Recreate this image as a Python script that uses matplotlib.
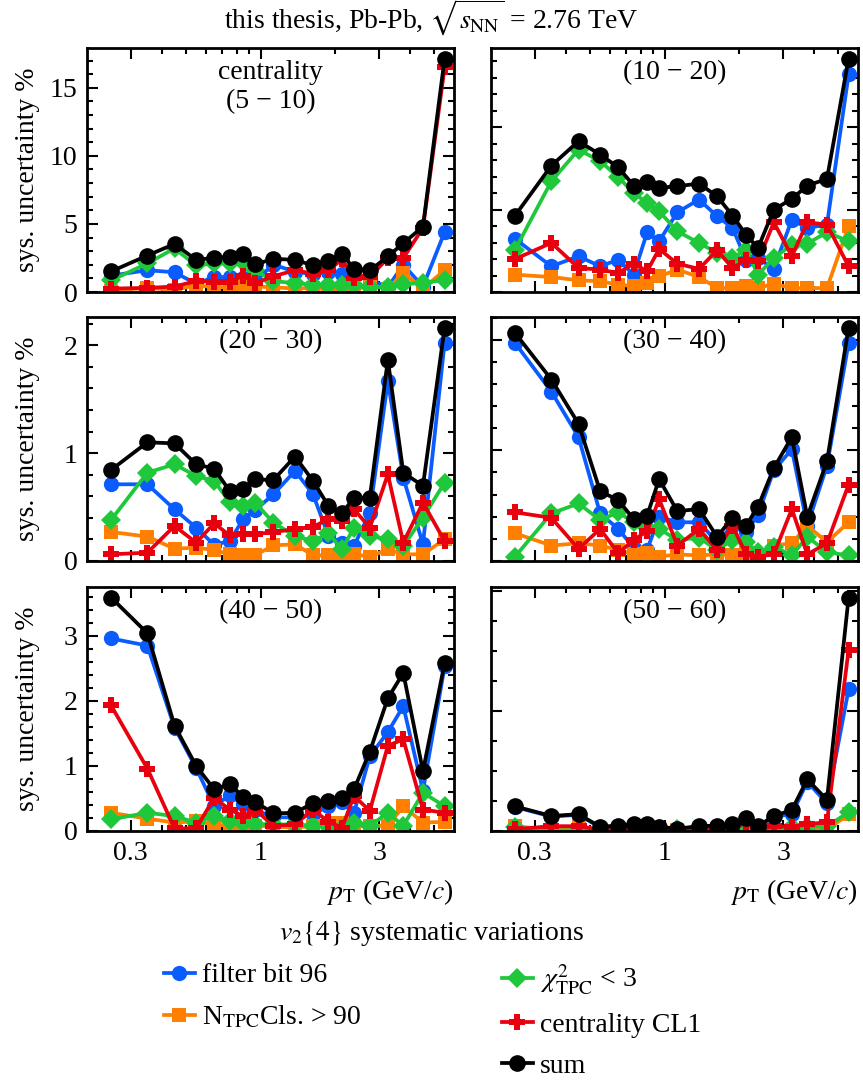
import matplotlib
matplotlib.use("Agg")
import matplotlib.pyplot as plt
from matplotlib.ticker import FixedLocator, MultipleLocator, NullFormatter, FixedFormatter

plt.rcParams['font.family'] = ['Liberation Serif', 'DejaVu Serif']
plt.rcParams['mathtext.fontset'] = 'stix'
plt.rcParams['font.size'] = 20

# transverse-momentum bin centres (GeV/c)
pt = [0.25, 0.35, 0.45, 0.55, 0.65, 0.75, 0.85, 0.95, 1.125, 1.375,
      1.625, 1.875, 2.125, 2.375, 2.75, 3.25, 3.75, 4.5, 5.5]

centrality = ["5 − 10", "10 − 20", "20 − 30", "30 − 40", "40 − 50", "50 − 60"]

# systematic uncertainty (%) per centrality class, one row per class
filter_bit_96 = [
    [1.2, 1.6, 1.45, 0.6, 1.1, 1.1, 1.0, 0.85, 2.0, 1.5, 1.3, 1.5, 1.3, 1.2, 0.9, 0.35, 2.0, 0.4, 4.4],
    [3.22, 1.56, 2.17, 1.56, 1.96, 1.05, 3.62, 3.08, 4.84, 5.61, 4.6, 3.89, 1.96, 2.06, 1.4, 4.39, 3.89, 4.09, 13.2],
    [0.711, 0.711, 0.479, 0.309, 0.15, 0.185, 0.386, 0.47, 0.618, 0.835, 0.618, 0.23, 0.17, 0.14, 0.448, 1.67, 0.773, 0.155, 2.025],
    [1.97, 1.53, 1.12, 0.43, 0.29, 0.12, 0.10, 0.40, 0.35, 0.35, 0.17, 0.32, 0.26, 0.42, 0.82, 1.01, 0.32, 0.86, 1.97],
    [2.96, 2.85, 1.59, 0.97, 0.38, 0.55, 0.41, 0.33, 0.21, 0.21, 0.26, 0.38, 0.44, 0.28, 1.15, 1.52, 1.92, 0.62, 2.53],
    [0.40, 0.24, 0.27, 0.06, 0.08, 0.10, 0.10, 0.06, 0.03, 0.07, 0.08, 0.10, 0.20, 0.07, 0.24, 0.28, 0.82, 0.46, 2.36],
]
n_tpc_cls = [
    [0.1, 0.3, 0.15, 0.5, 0.35, 0.35, 0.6, 0.4, 0.35, 0.25, 0.3, 0.2, 0.2, 0.15, 0.5, 0.25, 1.4, 0.25, 1.6],
    [1.05, 0.91, 0.71, 0.65, 0.45, 0.35, 0.55, 0.95, 1.36, 0.91, 0.24, 0.24, 0.38, 0.24, 0.5, 0.24, 0.24, 0.24, 3.99],
    [0.269, 0.226, 0.114, 0.124, 0.102, 0.062, 0.053, 0.053, 0.145, 0.155, 0.053, 0.053, 0.04, 0.062, 0.04, 0.108, 0.062, 0.062, 0.2],
    [0.25, 0.14, 0.16, 0.14, 0.10, 0.06, 0.07, 0.04, 0.06, 0.05, 0.06, 0.05, 0.07, 0.05, 0.14, 0.16, 0.32, 0.17, 0.35],
    [0.28, 0.19, 0.13, 0.15, 0.10, 0.08, 0.08, 0.08, 0.07, 0.05, 0.08, 0.13, 0.13, 0.08, 0.08, 0.08, 0.38, 0.13, 0.14],
    [0.08, 0.02, 0.08, 0.02, 0.02, 0.02, 0.02, 0.02, 0.02, 0.02, 0.02, 0.02, 0.02, 0.02, 0.02, 0.02, 0.02, 0.02, 0.28],
]
chi2_tpc = [
    [0.85, 2.1, 3.2, 1.95, 2.1, 2.1, 2.2, 1.6, 0.8, 0.65, 0.55, 0.5, 0.5, 0.5, 0.4, 0.35, 0.6, 0.65, 0.9],
    [2.57, 6.72, 8.64, 7.94, 6.98, 6.01, 5.4, 4.9, 3.68, 2.98, 2.37, 2.06, 2.57, 1.05, 2.06, 2.87, 2.94, 3.62, 3.08],
    [0.38, 0.819, 0.896, 0.788, 0.742, 0.547, 0.51, 0.541, 0.355, 0.232, 0.185, 0.257, 0.108, 0.309, 0.232, 0.2, 0.139, 0.402, 0.726],
    [0.04, 0.43, 0.52, 0.37, 0.44, 0.35, 0.30, 0.29, 0.19, 0.21, 0.10, 0.19, 0.17, 0.08, 0.13, 0.05, 0.22, 0.08, 0.05],
    [0.18, 0.28, 0.23, 0.13, 0.23, 0.15, 0.13, 0.10, 0.10, 0.10, 0.08, 0.08, 0.04, 0.13, 0.08, 0.28, 0.08, 0.59, 0.38],
    [0.06, 0.01, 0.01, 0.01, 0.01, 0.02, 0.02, 0.03, 0.03, 0.01, 0.01, 0.01, 0.01, 0.01, 0.03, 0.07, 0.07, 0.08, 0.31],
]
centrality_cl1 = [
    [0.25, 0.3, 0.4, 0.8, 0.75, 0.75, 1.2, 0.65, 1.15, 1.6, 1.35, 1.6, 2.4, 1.05, 1.1, 2.5, 2.5, 4.7, 16.5],
    [2.0, 2.98, 1.46, 1.36, 1.15, 1.72, 1.26, 2.61, 1.72, 1.40, 2.53, 1.46, 1.96, 1.86, 4.23, 2.17, 4.23, 4.09, 1.56],
    [0.062, 0.077, 0.325, 0.17, 0.349, 0.238, 0.247, 0.247, 0.269, 0.294, 0.318, 0.386, 0.371, 0.479, 0.309, 0.804, 0.17, 0.541, 0.185],
    [0.44, 0.39, 0.11, 0.29, 0.07, 0.19, 0.27, 0.56, 0.14, 0.29, 0.10, 0.32, 0.06, 0.04, 0.06, 0.47, 0.06, 0.16, 0.69],
    [1.93, 0.96, 0.04, 0.04, 0.51, 0.33, 0.23, 0.33, 0.08, 0.10, 0.33, 0.14, 0.05, 0.54, 0.31, 1.31, 1.41, 0.33, 0.28],
    [0.03, 0.08, 0.08, 0.02, 0.02, 0.03, 0.04, 0.02, 0.01, 0.02, 0.02, 0.03, 0.14, 0.02, 0.08, 0.07, 0.11, 0.15, 3.02],
]
total = [
    [1.51, 2.68, 3.53, 2.36, 2.51, 2.56, 2.8, 2.02, 2.44, 2.36, 1.95, 2.31, 2.8, 1.71, 1.58, 2.61, 3.58, 4.8, 17.15],
    [4.64, 7.67, 9.15, 8.34, 7.57, 6.46, 6.66, 6.32, 6.42, 6.58, 5.81, 4.64, 3.48, 2.67, 5.0, 5.65, 6.46, 6.86, 14.17],
    [0.844, 1.10, 1.09, 0.896, 0.856, 0.649, 0.671, 0.757, 0.751, 0.968, 0.742, 0.51, 0.442, 0.587, 0.587, 1.864, 0.819, 0.696, 2.164],
    [2.06, 1.64, 1.24, 0.63, 0.55, 0.38, 0.41, 0.74, 0.45, 0.47, 0.22, 0.39, 0.32, 0.49, 0.84, 1.12, 0.40, 0.90, 2.11],
    [3.59, 3.04, 1.62, 1.0, 0.64, 0.72, 0.53, 0.45, 0.27, 0.28, 0.43, 0.46, 0.51, 0.64, 1.22, 2.04, 2.43, 0.92, 2.58],
    [0.41, 0.25, 0.28, 0.07, 0.09, 0.11, 0.11, 0.07, 0.04, 0.08, 0.09, 0.11, 0.22, 0.08, 0.25, 0.35, 0.86, 0.52, 3.89],
]

series = [
    (filter_bit_96, "filter bit 96", "#0a5cff", "o", 11),
    (n_tpc_cls, r"N$_{\rm TPC}$Cls. > 90", "#ff8000", "s", 10),
    (chi2_tpc, r"$\chi^2_{\rm TPC}$ < 3", "#1ec83a", "D", 10),
    (centrality_cl1, "centrality CL1", "#e8000e", "P", 12),
    (total, "sum", "black", "o", 12),
]

# y tick spacing (major, minor) per panel
yticks = [(5, 1), (5, 1), (1, 0.2), (1, 0.2), (1, 0.2), (2, 0.5)]

W, H = 863, 1082
fig = plt.figure(figsize=(W / 100, H / 100), dpi=100)

col_x = [87, 491]
row_top = [48, 317, 587]
ax_w, ax_h = 367, 244

handles = []
for i, label in enumerate(centrality):
    r, c = divmod(i, 2)
    ax = fig.add_axes([col_x[c] / W, 1 - (row_top[r] + ax_h) / H, ax_w / W, ax_h / H])
    for data, name, color, marker, ms in series:
        ln, = ax.plot(pt, data[i], color=color, marker=marker, ms=ms, lw=2.7,
                      mew=0, label=name)
        if i == 0:
            handles.append(ln)
    ax.set_xscale("log")
    ax.set_xlim(0.2, 6.0)
    ax.set_ylim(0, 1.045 * max(total[i]))
    ax.xaxis.set_major_locator(FixedLocator([0.3, 1, 3]))
    ax.xaxis.set_minor_locator(FixedLocator([0.4, 0.5, 0.6, 0.7, 0.8, 0.9, 2, 4, 5]))
    ax.xaxis.set_minor_formatter(NullFormatter())
    if r == 2:
        ax.xaxis.set_major_formatter(FixedFormatter(["0.3", "1", "3"]))
        ax.set_xlabel(r"$p_{\rm T}$ (GeV/$c$)", loc="right", labelpad=8)
    else:
        ax.xaxis.set_major_formatter(NullFormatter())
    maj, mnr = yticks[i]
    ax.yaxis.set_major_locator(MultipleLocator(maj))
    ax.yaxis.set_minor_locator(MultipleLocator(mnr))
    if c == 1:
        ax.yaxis.set_major_formatter(NullFormatter())
    else:
        fig.text(27 / W, 1 - (row_top[r] + ax_h / 2) / H, "sys. uncertainty %",
                 rotation=90, ha="center", va="center")
    ax.tick_params(which="both", direction="in", top=True, right=True, width=1.5)
    ax.tick_params(which="major", length=8, pad=7)
    ax.tick_params(which="minor", length=4.5)
    for sp in ax.spines.values():
        sp.set_linewidth(2)
    text = ("centrality\n(" + label + ")") if i == 0 else "(" + label + ")"
    ax.text(0.5, 0.95, text, transform=ax.transAxes, ha="center", va="top",
            linespacing=1.2)

fig.text(0.5, 1 - 18 / H, r"this thesis, Pb-Pb, $\sqrt{s_{\rm NN}}$ = 2.76 TeV",
         ha="center", va="center")
fig.text(0.5, 1 - 933 / H, r"$v_2\{4\}$ systematic variations",
         ha="center", va="center")

leg_kw = dict(frameon=False, loc="upper left", handlelength=1.1, handletextpad=0.25,
              borderpad=0, borderaxespad=0, labelspacing=0.55)
fig.legend(handles=[handles[0], handles[1]], bbox_to_anchor=(164 / W, 1 - 963 / H), **leg_kw)
fig.legend(handles=[handles[2], handles[3], handles[4]],
           bbox_to_anchor=(502 / W, 1 - 963 / H), **leg_kw)

fig.savefig("out.png", dpi=100)
